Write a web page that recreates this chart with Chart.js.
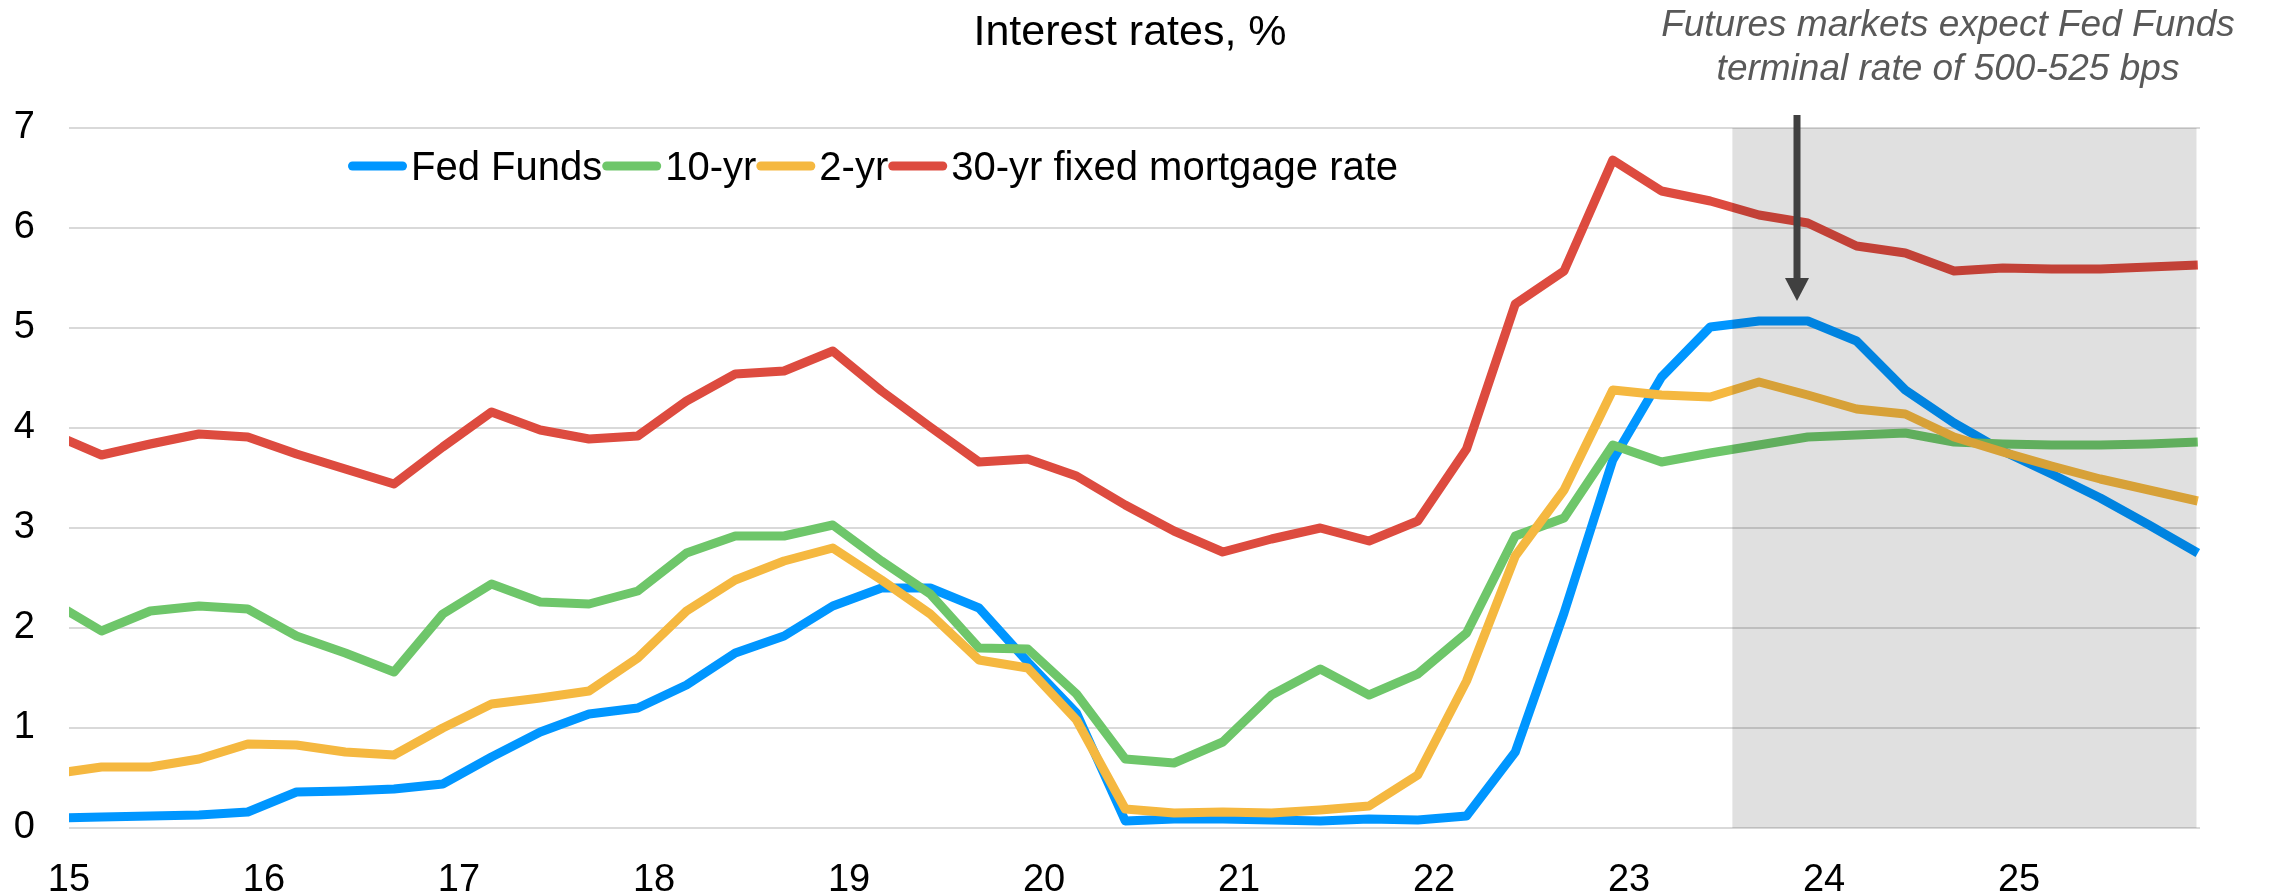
<!DOCTYPE html>
<html>
<head>
<meta charset="utf-8">
<title>Interest rates, %</title>
<script src="https://cdn.jsdelivr.net/npm/chart.js@4.4.1/dist/chart.umd.min.js"></script>
<style>
  html, body { margin: 0; padding: 0; background: #fff; }
  #wrap { width: 2269px; height: 895px; }
</style>
</head>
<body>
<div id="wrap"><canvas id="ratesChart" width="2269" height="895"></canvas></div>
<script>
// Quarterly observations (year-month), last quarter of 2014 to end of 2025
const quarters = [
  '2014-12',
  '2015-03', '2015-06', '2015-09', '2015-12',
  '2016-03', '2016-06', '2016-09', '2016-12',
  '2017-03', '2017-06', '2017-09', '2017-12',
  '2018-03', '2018-06', '2018-09', '2018-12',
  '2019-03', '2019-06', '2019-09', '2019-12',
  '2020-03', '2020-06', '2020-09', '2020-12',
  '2021-03', '2021-06', '2021-09', '2021-12',
  '2022-03', '2022-06', '2022-09', '2022-12',
  '2023-03', '2023-06', '2023-09', '2023-12',
  '2024-03', '2024-06', '2024-09', '2024-12',
  '2025-03', '2025-06', '2025-09', '2025-12'
];

const xTicks = [15, 16, 17, 18, 19, 20, 21, 22, 23, 24, 25];
const yTicks = [0, 1, 2, 3, 4, 5, 6, 7];

const fedFunds = [
  0.10, 0.11, 0.12, 0.13, 0.16, 0.36, 0.37, 0.39, 0.44, 0.71, 0.96, 1.14,
  1.20, 1.43, 1.75, 1.92, 2.22, 2.40, 2.40, 2.20, 1.66, 1.15, 0.07, 0.09,
  0.09, 0.08, 0.07, 0.09, 0.08, 0.12, 0.76, 2.15, 3.68, 4.51, 5.01,
  5.07, 5.07, 4.87, 4.38, 4.05, 3.77, 3.54, 3.30, 3.03, 2.75
];
const tenYear = [
  2.26, 1.97, 2.17, 2.22, 2.19, 1.92, 1.75, 1.56, 2.14, 2.44, 2.26, 2.24,
  2.37, 2.75, 2.92, 2.92, 3.03, 2.67, 2.34, 1.80, 1.79, 1.34, 0.69, 0.65,
  0.86, 1.33, 1.59, 1.33, 1.54, 1.95, 2.92, 3.10, 3.83, 3.66, 3.75,
  3.83, 3.91, 3.93, 3.95, 3.86, 3.84, 3.83, 3.83, 3.84, 3.86
];
const twoYear = [
  0.54, 0.61, 0.61, 0.69, 0.84, 0.83, 0.76, 0.73, 1.00, 1.24, 1.30, 1.37,
  1.70, 2.17, 2.48, 2.67, 2.80, 2.48, 2.14, 1.68, 1.60, 1.08, 0.19, 0.15,
  0.16, 0.15, 0.18, 0.22, 0.53, 1.47, 2.72, 3.38, 4.38, 4.33, 4.31,
  4.46, 4.33, 4.19, 4.14, 3.91, 3.76, 3.62, 3.49, 3.38, 3.27
];
const mortgage30 = [
  3.94, 3.73, 3.84, 3.94, 3.91, 3.74, 3.59, 3.44, 3.81, 4.16, 3.98, 3.89,
  3.92, 4.27, 4.54, 4.57, 4.77, 4.37, 4.01, 3.66, 3.69, 3.52, 3.23, 2.97,
  2.76, 2.89, 3.00, 2.87, 3.07, 3.79, 5.24, 5.57, 6.68, 6.37, 6.27,
  6.13, 6.05, 5.82, 5.75, 5.57, 5.60, 5.59, 5.59, 5.61, 5.63
];

// forecast window (futures-implied) and the arrow pointing at the peak
const forecastStart = 23.53;
const forecastEnd = 25.91;
const arrowAt = 23.86;
const arrowFrom = 7.13;
const arrowTip = 5.27;

const FONT = '"Liberation Sans", Arial, Helvetica, sans-serif';

// '2015-03' -> 15.1667 (two-digit year plus fraction)
function quarterToX(q) {
  const parts = q.split('-').map(Number);
  return (parts[0] - 2000) + (parts[1] - 1) / 12;
}

function toPoints(values) {
  return values.map((v, i) => ({ x: quarterToX(quarters[i]), y: v }));
}

const seriesList = [
  { label: 'Fed Funds', values: fedFunds, color: '#0096ff', order: 3 },
  { label: '10-yr', values: tenYear, color: '#6ec66a', order: 2 },
  { label: '2-yr', values: twoYear, color: '#f5b840', order: 1 },
  { label: '30-yr fixed mortgage rate', values: mortgage30, color: '#dd4b3f', order: 0 }
];

const overlayPlugin = {
  id: 'overlay',
  afterDatasetsDraw(chart) {
    const ctx = chart.ctx;
    const x = chart.scales.x;
    const y = chart.scales.y;
    ctx.save();

    // grey box over the forecast quarters
    const left = x.getPixelForValue(forecastStart);
    const right = x.getPixelForValue(forecastEnd);
    const top = y.getPixelForValue(7);
    const bottom = y.getPixelForValue(0);
    ctx.fillStyle = 'rgba(0, 0, 0, 0.12)';
    ctx.fillRect(left, top, right - left, bottom - top);

    // arrow
    const ax = Math.round(x.getPixelForValue(arrowAt));
    const y0 = y.getPixelForValue(arrowFrom);
    const tip = y.getPixelForValue(arrowTip);
    ctx.strokeStyle = '#404040';
    ctx.fillStyle = '#404040';
    ctx.lineWidth = 7;
    ctx.beginPath();
    ctx.moveTo(ax, y0);
    ctx.lineTo(ax, tip - 20);
    ctx.stroke();
    ctx.beginPath();
    ctx.moveTo(ax - 12, tip - 23);
    ctx.lineTo(ax + 12, tip - 23);
    ctx.lineTo(ax, tip);
    ctx.closePath();
    ctx.fill();
    ctx.restore();
  },
  afterDraw(chart) {
    const ctx = chart.ctx;
    ctx.save();

    // title
    ctx.fillStyle = '#000';
    ctx.font = '43px ' + FONT;
    ctx.textAlign = 'center';
    ctx.textBaseline = 'alphabetic';
    ctx.fillText('Interest rates, %', 1130, 45);

    // note above the forecast box
    ctx.fillStyle = '#595959';
    ctx.font = 'italic 37px ' + FONT;
    ctx.fillText('Futures markets expect Fed Funds', 1948, 36);
    ctx.fillText('terminal rate of 500-525 bps', 1948, 80);

    // legend, drawn tight like the original
    ctx.font = '40px ' + FONT;
    ctx.textAlign = 'left';
    let lx = 348;
    chart.data.datasets.forEach(ds => {
      ctx.strokeStyle = ds.borderColor;
      ctx.lineWidth = 9;
      ctx.lineCap = 'round';
      ctx.beginPath();
      ctx.moveTo(lx + 4.5, 166);
      ctx.lineTo(lx + 54.5, 166);
      ctx.stroke();
      ctx.fillStyle = '#000';
      ctx.fillText(ds.label, lx + 63, 180);
      lx += 63 + ctx.measureText(ds.label).width;
    });
    ctx.restore();
  }
};

const ctx = document.getElementById('ratesChart').getContext('2d');
new Chart(ctx, {
  type: 'line',
  data: {
    datasets: seriesList.map(s => ({
      label: s.label,
      data: toPoints(s.values),
      borderColor: s.color,
      backgroundColor: s.color,
      borderWidth: 9,
      borderJoinStyle: 'round',
      pointRadius: 0,
      pointHoverRadius: 0,
      tension: 0,
      fill: false,
      order: s.order
    }))
  },
  options: {
    responsive: false,
    devicePixelRatio: 1,
    animation: false,
    layout: { padding: { top: 128, right: 69, left: 0, bottom: 0 } },
    plugins: {
      legend: { display: false },
      title: { display: false },
      tooltip: { enabled: false }
    },
    scales: {
      x: {
        type: 'linear',
        min: 15,
        max: 25.928,
        grid: { display: false },
        border: { display: false },
        afterBuildTicks: scale => { scale.ticks = xTicks.map(v => ({ value: v })); },
        afterFit: scale => { scale.height = 67; },
        ticks: {
          color: '#000',
          padding: 22,
          maxRotation: 0,
          autoSkip: false,
          font: { family: FONT, size: 38 },
          callback: v => String(v)
        }
      },
      y: {
        min: 0,
        max: 7,
        grid: { color: '#d9d9d9', lineWidth: 2, drawTicks: false },
        border: { display: false },
        afterBuildTicks: scale => { scale.ticks = yTicks.map(v => ({ value: v })); },
        afterFit: scale => { scale.width = 69; },
        ticks: {
          color: '#000',
          padding: 34,
          font: { family: FONT, size: 38 }
        }
      }
    }
  },
  plugins: [overlayPlugin]
});
</script>
</body>
</html>
